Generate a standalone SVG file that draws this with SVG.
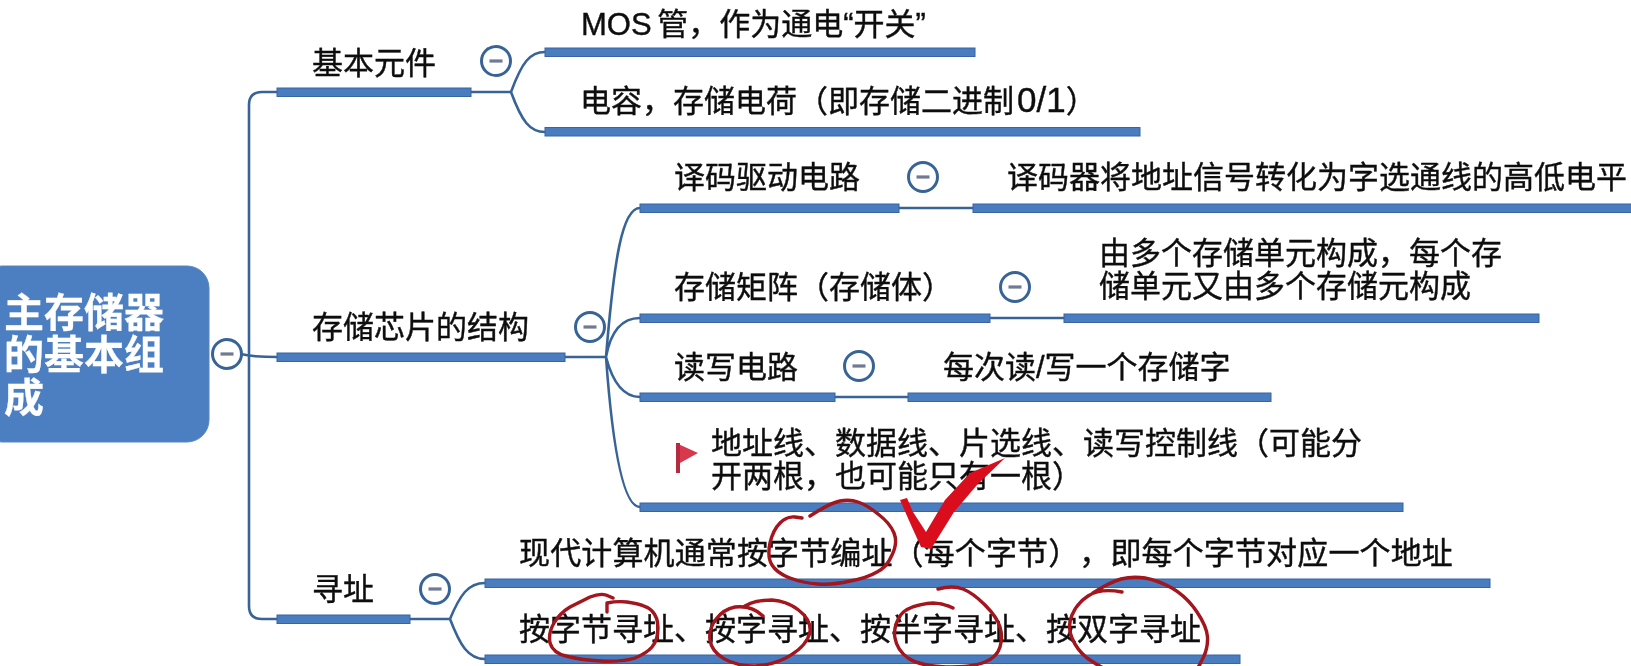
<svg xmlns="http://www.w3.org/2000/svg" width="1631" height="666" viewBox="0 0 1631 666">
<defs>
<filter id="soft" x="-2%" y="-2%" width="104%" height="104%"><feGaussianBlur stdDeviation="0.45"/></filter>
<g id="collapse"><circle r="14.5" class="cc"/><rect x="-6.5" y="-1.6" width="13" height="3.2" class="cm"/></g>
</defs>
<style>
.bar{fill:#4a7dbf;stroke:#3765a2;stroke-width:1}
.ln{fill:none;stroke:#386496;stroke-width:2.6;stroke-linecap:round}
.cc{fill:#fff;stroke:#386496;stroke-width:3}
.cm{fill:#6f7a94}
text{font-family:"Liberation Sans","Noto Sans CJK SC",sans-serif;font-size:31px;fill:#0c0c0c;stroke:#0c0c0c;stroke-width:.4px;text-spacing-trim:space-all}
.root{fill:#fff;stroke:#fff;stroke-width:.3px;font-size:40px;font-weight:700}
.ink{fill:none;stroke:#a3121f;stroke-width:3.4;stroke-linecap:round;stroke-linejoin:round}
</style>
<rect width="1631" height="666" fill="#fff"/>
<g filter="url(#soft)">
<g id="connectors">
<path class="ln" d="M227,354 H241 Q252,357 277,357"/>
<path class="ln" d="M277,92 H262 Q249,92 249,105 V606 Q249,619 262,619 H277"/>
<path class="ln" d="M471,92 H511 M511,92 C522,62 530,52 545,52 M511,92 C522,122 530,132 545,132"/>
<path class="ln" d="M565,357 H606 M606,357 C614,260 622,208 640,208 M606,357 C610,335 620,318 640,318 M606,357 C612,380 622,397 640,397 M606,357 C612,440 622,507 640,507"/>
<path class="ln" d="M899,208 H973 M991,318 H1064 M835,397 H908"/>
<path class="ln" d="M410,619 H450 M450,619 C460,595 468,583 485,583 M450,619 C460,645 468,659 485,659"/>
</g>
<g id="root"><rect x="-20" y="266" width="229" height="176" rx="22" fill="#4b7fc1" stroke="#5a86bf" stroke-width="1"/>
<text class="root" x="4" y="327">主存储器</text><text class="root" x="4" y="369">的基本组</text><text class="root" x="4" y="412">成</text>
<use href="#collapse" x="227" y="354"/></g>
<g id="n-basic"><rect class="bar" x="277" y="88" width="194" height="8.5"/><text x="312" y="74">基本元件</text><use href="#collapse" x="496" y="61"/></g>
<g id="n-mos"><rect class="bar" x="545" y="48" width="430" height="8.5"/><text x="581" y="35" style="word-spacing:-3px">MOS 管，作为通电“开关”</text></g>
<g id="n-cap"><rect class="bar" x="545" y="127.500" width="595" height="8.5"/><text x="580" y="112">电容，存储电荷（即存储二进制<tspan dx="3" font-size="35">0/1</tspan>）</text></g>
<g id="n-struct"><rect class="bar" x="277" y="353" width="288" height="8.5"/><text x="312" y="338">存储芯片的结构</text><use href="#collapse" x="590" y="327"/></g>
<g id="n-decode"><rect class="bar" x="640" y="204" width="259" height="8.5"/><text x="674" y="188">译码驱动电路</text><use href="#collapse" x="923" y="177"/></g>
<g id="n-decode-note"><rect class="bar" x="973" y="204" width="660" height="8.5"/><text x="1007" y="188">译码器将地址信号转化为字选通线的高低电平</text></g>
<g id="n-matrix"><rect class="bar" x="640" y="314" width="350" height="8.5"/><text x="674" y="298">存储矩阵（存储体）</text><use href="#collapse" x="1015" y="287"/></g>
<g id="n-matrix-note"><rect class="bar" x="1064" y="314" width="475" height="8.5"/><text x="1099" y="264">由多个存储单元构成，每个存</text><text x="1099" y="297">储单元又由多个存储元构成</text></g>
<g id="n-rw"><rect class="bar" x="640" y="393" width="195" height="8.5"/><text x="674" y="378">读写电路</text><use href="#collapse" x="859" y="366"/></g>
<g id="n-rw-note"><rect class="bar" x="908" y="393" width="363" height="8.5"/><text x="943" y="378">每次读/写一个存储字</text></g>
<g id="n-lines"><rect class="bar" x="640" y="503" width="763" height="8.5"/>
<path d="M676,443 L698,453 L680,463 V473 H676 Z" fill="#d8384c"/><rect x="676" y="443" width="4" height="30" fill="#b52a40"/>
<text x="711" y="454">地址线、数据线、片选线、读写控制线（可能分</text><text x="711" y="487">开两根，也可能只有一根）</text></g>
<g id="n-addr"><rect class="bar" x="277" y="615" width="133" height="8.5"/><text x="312" y="600">寻址</text><use href="#collapse" x="435" y="589"/></g>
<g id="n-addr1"><rect class="bar" x="485" y="579" width="1005" height="8.5"/><text x="519" y="564" letter-spacing=".13">现代计算机通常按字节编址（每个字节），即每个字节对应一个地址</text></g>
<g id="n-addr2"><rect class="bar" x="485" y="655" width="755" height="8.5"/><text x="519" y="640">按字节寻址、按字寻址、按半字寻址、按双字寻址</text></g>
<g id="ink">
<path class="ink" d="M802,518 L795,517 Q787,516 780,523 Q773,530 770,543 Q767,557 772,565 Q777,573 790,578 Q803,583 818,584 Q833,585 850,581 Q867,578 877,572 Q887,567 892,555 Q898,543 894,533 Q890,523 878,514 Q867,505 858,502 Q850,499 840,501 Q830,503 810,516"/>
<path class="ink" d="M607,612 L607,603 Q617,601 627,602 Q647,605 652,611 Q658,617 658,628 Q658,640 652,647 Q647,653 635,658 Q623,662 601,661 Q580,660 566,656 Q553,653 550,643 Q548,633 554,623 Q560,613 570,607 Q580,602 590,597 Q600,593 606,595 L613,598"/>
<path class="ink" d="M763,616 C755,608 745,606 735,607 C720,610 708,625 710,640 C712,655 730,666 755,666 C780,665 806,650 810,632 C812,615 790,601 772,600 C760,600 750,603 745,606"/>
<path class="ink" d="M953,608 Q943,603 933,603 Q907,605 900,616 Q893,627 895,638 Q897,650 908,658 Q920,666 946,667 Q973,667 985,662 Q997,657 1000,647 Q1003,637 1000,627 Q997,617 985,605 Q973,593 963,589 Q953,585 938,589"/>
<path class="ink" d="M1122,592 Q1100,588 1088,596 Q1077,603 1072,615 Q1067,627 1072,638 Q1077,650 1087,658 Q1097,665 1110,672 M1195,672 Q1200,665 1204,656 Q1208,647 1207.500,637 Q1207,627 1197,612 Q1187,597 1172,588 Q1157,580 1145,578 Q1133,576 1121,579 Q1110,582 1093,593"/>
<path d="M900,500 L907,498 L913,512 L926,532 L945,500 L970,473 L1005,458 L977,485 L954,512 L931,549 L921,547 L911,525 Z" fill="#d9101e"/>
</g>
</g>
</svg>
